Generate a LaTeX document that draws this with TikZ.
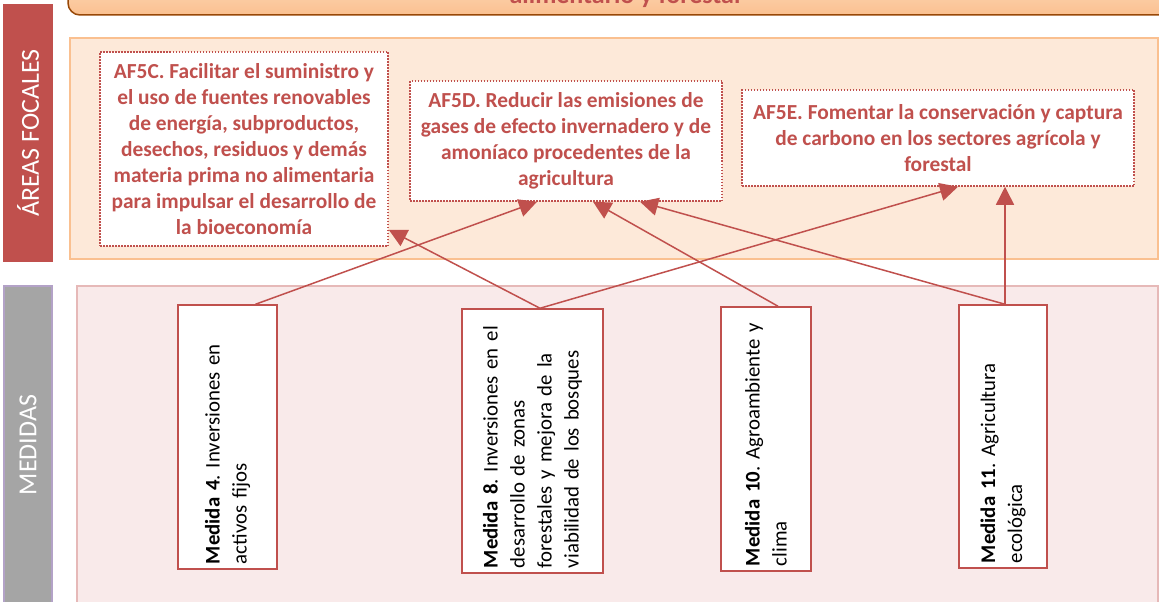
\documentclass[tikz,border=0pt]{standalone}
\usepackage{fontspec}
\setmainfont{Carlito}
\usetikzlibrary{arrows.meta}
\definecolor{rojo}{HTML}{C0504D}
\definecolor{naranja}{HTML}{FAC090}
\definecolor{crema}{HTML}{FDE9D9}
\definecolor{rosa}{HTML}{F9EAEA}
\definecolor{rosaborde}{HTML}{E6B9B8}
\definecolor{gris}{HTML}{A5A5A5}
\definecolor{lila}{HTML}{B3A2C7}
\definecolor{marron}{HTML}{984807}
\newcommand{\medida}[2]{\textbf{Medida #1}. #2}
\frenchspacing

\begin{document}
\begin{tikzpicture}[
      x=1pt,y=-1pt,
      bar/.style={rotate=90, text=white, inner sep=0pt, font=\fontsize{26}{30}\selectfont},
      focal/.style={draw=rojo, line width=1.5pt, dash pattern=on 1.5pt off 1.5pt, fill=white,
        text=rojo, align=center, inner sep=0pt, font=\fontsize{21.4}{26}\selectfont\bfseries},
      medbox/.style={draw=rojo, line width=1.5pt, fill=white, rotate=90, align=left,
        inner sep=0pt, font=\fontsize{20.8}{27}\selectfont},
      pointer/.style={draw=rojo, line width=1.5pt, -{Triangle[length=18pt,width=18pt]}}
      ]
      \useasboundingbox (0,0) rectangle (1159,602);
      % banner and backgrounds
      \draw[marron, line width=1.5pt, rounded corners=12pt, top color=orange!20, bottom color=naranja]
        (68,-40) rectangle (1200,15);
      \node[text=rojo, anchor=base, font=\fontsize{26}{30}\selectfont\bfseries] (titulo) at (625,3.5) {alimentario y forestal};
      \draw[naranja, fill=crema, line width=1.5pt] (70,38) rectangle (1158,259);
      \draw[rosaborde, fill=rosa, line width=1.5pt] (77,286) rectangle (1158,610);
      \node[bar, fill=rojo, minimum width=258pt, minimum height=50pt] (areas) at (28,133) {ÁREAS FOCALES};
      \node[bar, fill=gris, draw=lila, line width=1.5pt, minimum width=318pt, minimum height=48pt] (medidas) at (28,445) {MEDIDAS};
      % areas focales
      \node[focal, minimum width=288pt, minimum height=194pt] (af5c) at (244,149) {
        AF5C. Facilitar el suministro y\\el uso de fuentes renovables\\de energía, subproductos,\\
        desechos, residuos y demás\\materia prima no alimentaria\\para impulsar el desarrollo de\\la bioeconomía};
      \node[focal, minimum width=312pt, minimum height=120pt] (af5d) at (566,141) {
        AF5D. Reducir las emisiones de\\gases de efecto invernadero y de\\amoníaco procedentes de la\\agricultura};
      \node[focal, minimum width=392pt, minimum height=96pt] (af5e) at (938,138) {
        AF5E. Fomentar la conservación y captura\\de carbono en los sectores agrícola y\\forestal};
      % medidas
      \node[medbox, minimum width=264pt, minimum height=99pt, text width=254pt] (m4) at (227.5,437)
        {\medida{4}{Inversiones en}\\activos fijos};
      \node[medbox, minimum width=264pt, minimum height=141pt, text width=254pt] (m8) at (532.5,441)
        {\medida{8}{Inversiones en el}\\desarrollo de zonas\\forestales y mejora de la\\viabilidad de los bosques};
      \node[medbox, minimum width=264pt, minimum height=90pt, text width=254pt] (m10) at (766,439)
        {\medida{10}{Agroambiente y}\\clima};
      \node[medbox, minimum width=263pt, minimum height=88pt, text width=253pt] (m11) at (1003,436.5)
        {\medida{11}{Agricultura}\\ecológica};
      % arrows
      \draw[pointer] ([xshift=28pt]m4.east) -- ([xshift=-29pt]af5d.south);
      \draw[pointer] ([xshift=7.5pt]m8.east) -- ([yshift=17pt]af5c.south east);
      \draw[pointer] ([xshift=7.5pt]m8.east) -- ([xshift=20pt]af5e.south);
      \draw[pointer] ([xshift=12pt]m10.east) -- ([xshift=27pt]af5d.south);
      \draw[pointer] ([xshift=2pt]m11.east) -- ([xshift=74pt]af5d.south);
      \draw[pointer] ([xshift=2pt]m11.east) -- ([xshift=67pt]af5e.south);
    \end{tikzpicture}
\end{document}
